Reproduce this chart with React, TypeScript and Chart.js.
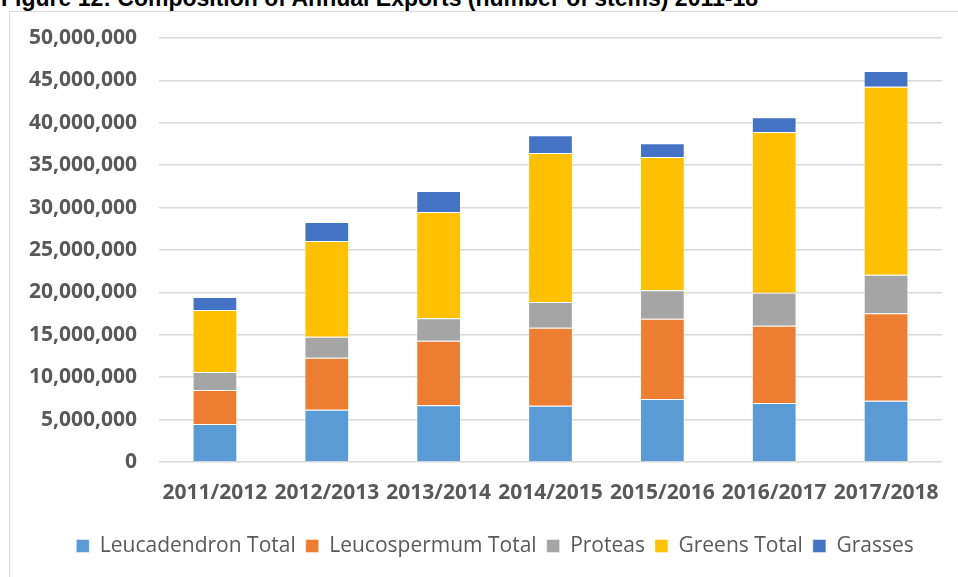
import React, { useEffect, useRef } from "react";
import { Chart, registerables } from "chart.js";

Chart.register(...registerables);

const categories = ["2011/2012", "2012/2013", "2013/2014", "2014/2015", "2015/2016", "2016/2017", "2017/2018"];
const leucadendron = [4480000, 6170000, 6690000, 6640000, 7430000, 6960000, 7230000];
const leucospermum = [4010000, 6130000, 7610000, 9200000, 9470000, 9110000, 10300000];
const proteas = [2120000, 2480000, 2650000, 3030000, 3350000, 3900000, 4560000];
const greens = [7310000, 11280000, 12530000, 17570000, 15720000, 18950000, 22170000];
const grasses = [1540000, 2240000, 2480000, 2090000, 1610000, 1730000, 1850000];
const seriesNames = ["Leucadendron Total", "Leucospermum Total", "Proteas", "Greens Total", "Grasses"];
const seriesColors = ["#5B9BD5", "#ED7D31", "#A5A5A5", "#FFC000", "#4472C4"];
const titleText = "Figure 12: Composition of Annual Exports (number of stems) 2011-18";

const legendShift = {
  id: "legendShift",
  afterLayout(chart: any) {
    const lg = chart.legend;
    if (lg) {
      lg.left += 14;
      lg.right += 14;
    }
  },
};

export default function App() {
  const canvasRef = useRef<HTMLCanvasElement | null>(null);

  useEffect(() => {
    const canvas = canvasRef.current;
    if (!canvas) return;
    const values = [leucadendron, leucospermum, proteas, greens, grasses];
    const chart = new Chart(canvas, {
      type: "bar",
      data: {
        labels: categories,
        datasets: values.map((v, i) => ({
          label: seriesNames[i],
          data: v,
          backgroundColor: seriesColors[i],
          borderColor: "rgba(255,255,255,0.45)",
          borderWidth: 1,
          categoryPercentage: 1,
          barPercentage: 0.4,
        })),
      },
      plugins: [legendShift],
      options: {
        responsive: false,
        animation: false,
        layout: { padding: { left: 20, right: 16, top: 38, bottom: 10.5 } },
        plugins: {
          tooltip: { enabled: false },
          legend: {
            position: "bottom",
            labels: {
              boxWidth: 13,
              boxHeight: 13,
              padding: 10,
              color: "#595959",
              font: { family: "'Open Sans', sans-serif", size: 21 },
            },
          },
        },
        scales: {
          x: {
            stacked: true,
            grid: { display: false, drawTicks: false },
            border: { display: false },
            ticks: {
              padding: 18,
              color: "#595959",
              maxRotation: 0,
              autoSkip: false,
              font: { family: "'Open Sans', sans-serif", size: 21, weight: "bold" },
            },
            afterFit: (s: any) => {
              s.height = 63.5;
            },
          },
          y: {
            stacked: true,
            min: 0,
            max: 50000000,
            grid: { color: "#d9d9d9", lineWidth: 1.5, drawTicks: false },
            border: { display: false },
            ticks: {
              stepSize: 5000000,
              padding: 22,
              color: "#595959",
              font: { family: "'Open Sans', sans-serif", size: 21, weight: "bold" },
              callback: (v: any) => Number(v).toLocaleString("en-US"),
            },
            afterFit: (s: any) => {
              s.width = 139;
            },
          },
        },
      },
    });
    return () => chart.destroy();
  }, []);

  return (
    <div style={{ position: "fixed", left: 0, top: 0, width: 958, height: 577, overflow: "hidden", background: "#fff" }}>
      <div
        style={{
          position: "absolute",
          left: 1,
          top: -13,
          fontFamily: "'Liberation Sans', Arial, sans-serif",
          fontWeight: "bold",
          fontSize: 23,
          lineHeight: "23px",
          whiteSpace: "nowrap",
          color: "#000",
        }}
      >
        {titleText}
      </div>
      <div
        style={{
          position: "absolute",
          left: 9,
          top: 11,
          width: 1000,
          height: 700,
          border: "1px solid #d9d9d9",
          boxSizing: "border-box",
        }}
      />
      <canvas ref={canvasRef} width={958} height={577} style={{ position: "absolute", left: 0, top: 0 }} />
    </div>
  );
}
